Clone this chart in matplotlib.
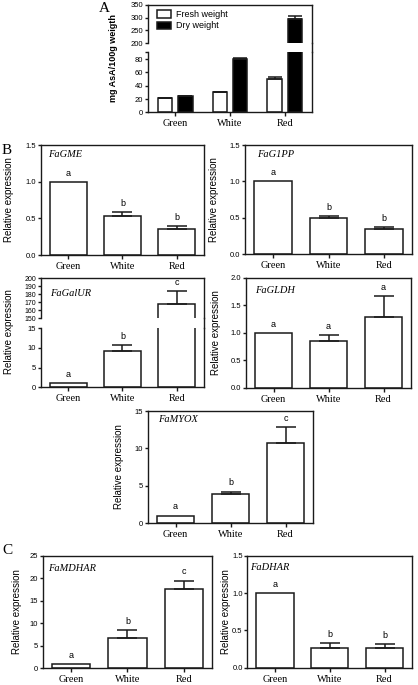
import matplotlib
matplotlib.use('Agg')
import matplotlib.pyplot as plt
from matplotlib.lines import Line2D
import numpy as np

stages = ['Green', 'White', 'Red']

# panel A: ascorbate content (mg AsA/100g)
asa_fresh = [21, 30.5, 50.5]
asa_fresh_err = [0.5, 0.8, 2.0]
asa_dry = [24, 80, 294]
asa_dry_err = [0.6, 1.2, 13]

# panel B/C: relative expression
gme = [1.0, 0.53, 0.36]
gme_err = [0, 0.05, 0.035]
gme_sig = ['a', 'b', 'b']

g1pp = [1.0, 0.50, 0.345]
g1pp_err = [0, 0.03, 0.03]
g1pp_sig = ['a', 'b', 'b']

galur = [1.0, 9.2, 168]
galur_err = [0, 1.5, 16]
galur_sig = ['a', 'b', 'c']

gldh = [1.0, 0.85, 1.29]
gldh_err = [0, 0.11, 0.38]
gldh_sig = ['a', 'a', 'a']

myox = [1.0, 3.9, 10.7]
myox_err = [0, 0.3, 2.1]
myox_sig = ['a', 'b', 'c']

mdhar = [1.0, 6.8, 17.6]
mdhar_err = [0, 1.7, 1.9]
mdhar_sig = ['a', 'b', 'c']

dhar = [1.0, 0.26, 0.26]
dhar_err = [0, 0.07, 0.06]
dhar_sig = ['a', 'b', 'b']

W, H = 418, 685
SANS = 'Liberation Sans'
SERIF = 'Liberation Serif'
EDGE = '#1a1a1a'

plt.rcParams['font.family'] = SANS
plt.rcParams['axes.linewidth'] = 1.0
plt.rcParams['axes.edgecolor'] = EDGE

fig = plt.figure(figsize=(W / 100, H / 100), dpi=100)


def box(x0, x1, top, bot):
    return [x0 / W, 1 - bot / H, (x1 - x0) / W, (bot - top) / H]


def make_ax(x0, x1, top, bot, ylim, yticks, fmt='%g', ysize=5.5):
    ax = fig.add_axes(box(x0, x1, top, bot))
    ax.set_xlim(-0.5, 2.5)
    ax.set_ylim(*ylim)
    ax.set_yticks(yticks)
    ax.set_yticklabels([fmt % t for t in yticks])
    ax.tick_params(axis='y', which='both', direction='out', length=2.5, width=1,
                   labelsize=ysize, pad=1, color=EDGE)
    ax.tick_params(axis='x', direction='out', length=3, width=1, labelsize=7.5,
                   pad=2, color=EDGE)
    ax.set_xticks(range(3))
    ax.set_xticklabels(stages, family=SERIF)
    return ax


def draw_bars(ax, vals, errs, sig=None, show=(0, 1, 2)):
    x = np.arange(3)
    vals = np.asarray(vals, float)
    errs = np.asarray(errs, float)
    ax.bar(x, vals, 0.68, color='white', edgecolor=EDGE, linewidth=1.1, zorder=2)
    m = errs > 0
    ax.errorbar(x[m], vals[m], yerr=[np.zeros(m.sum()), errs[m]], fmt='none',
                ecolor=EDGE, elinewidth=1.1, capsize=7, capthick=1.1, zorder=3)
    if sig:
        for i in show:
            ax.annotate(sig[i], (i, vals[i] + errs[i]), xytext=(0, 3),
                        textcoords='offset points', ha='center', va='bottom',
                        fontsize=6.5)


def gene(ax, name, fx, fy):
    ax.text(fx, fy, name, transform=ax.transAxes, family=SERIF, style='italic',
            fontsize=7.5, ha='left', va='center')


def ylab(xp, yp, text, **kw):
    fig.text(xp / W, 1 - yp / H, text, rotation=90, ha='center', va='center',
             fontsize=kw.pop('size', 7), **kw)


def join_right(xp, y0, y1):
    fig.add_artist(Line2D([xp / W, xp / W], [1 - y0 / H, 1 - y1 / H],
                          transform=fig.transFigure, color=EDGE, lw=1.0))


# ---- A: broken axis ----
axA1 = make_ax(148, 312, 4.7, 43.3, (200, 350), [200, 250, 300, 350])
axA2 = make_ax(148, 312, 52.3, 112.3, (0, 90.3), [0, 20, 40, 60, 80])
axA2.set_yticks([90], minor=True)
xa = np.arange(3)
for ax in (axA1, axA2):
    ax.bar(xa - 0.185, asa_fresh, 0.26, color='white', edgecolor=EDGE, lw=1.1,
           label='Fresh weight', zorder=2)
    ax.bar(xa + 0.185, asa_dry, 0.26, color='black', edgecolor=EDGE, lw=1.1,
           label='Dry weight', zorder=2)
    ax.errorbar(xa - 0.185, asa_fresh, yerr=[np.zeros(3), asa_fresh_err],
                fmt='none', ecolor=EDGE, elinewidth=1.1, capsize=5, capthick=1.1, zorder=3)
    ax.errorbar(xa + 0.185, asa_dry, yerr=[np.zeros(3), asa_dry_err],
                fmt='none', ecolor=EDGE, elinewidth=1.1, capsize=5, capthick=1.1, zorder=3)
axA1.spines['bottom'].set_visible(False)
axA1.tick_params(axis='x', bottom=False, labelbottom=False)
axA2.spines['top'].set_visible(False)
axA1.legend(loc='upper left', bbox_to_anchor=(0.02, 1.0), frameon=False,
            fontsize=6.5, handlelength=1.6, handleheight=0.9, labelspacing=0.25,
            handletextpad=0.5, borderaxespad=0.2)
join_right(312, 43.3, 52.3)
ylab(113, 58, 'mg AsA/100g weigth', weight='bold', size=6.5)
fig.text(104 / W, 1 - 8 / H, 'A', family=SERIF, fontsize=11, ha='center', va='center')

# ---- B ----
fig.text(7 / W, 1 - 150 / H, 'B', family=SERIF, fontsize=11, ha='center', va='center')

ax = make_ax(41, 204, 145, 255, (0, 1.5), [0, 0.5, 1.0, 1.5], '%.1f')
draw_bars(ax, gme, gme_err, gme_sig)
gene(ax, 'FaGME', 0.045, 0.91)
ylab(9, 200, 'Relative expression')

ax = make_ax(245, 412, 145, 254.3, (0, 1.5), [0, 0.5, 1.0, 1.5], '%.1f')
draw_bars(ax, g1pp, g1pp_err, g1pp_sig)
gene(ax, 'FaG1PP', 0.07, 0.91)
ylab(214, 200, 'Relative expression')

# FaGalUR, broken axis
axG1 = make_ax(41, 204, 278.3, 318.3, (150, 200), list(range(150, 201, 10)), ysize=5)
axG2 = make_ax(41, 204, 328.3, 387.3, (0, 15), [0, 5, 10, 15])
draw_bars(axG1, galur, galur_err, galur_sig, show=(2,))
draw_bars(axG2, galur, galur_err, galur_sig, show=(0, 1))
axG1.spines['bottom'].set_visible(False)
axG1.tick_params(axis='x', bottom=False, labelbottom=False)
axG2.spines['top'].set_visible(False)
gene(axG1, 'FaGalUR', 0.055, 0.63)
join_right(204, 318.3, 328.3)
ylab(9, 332, 'Relative expression')

ax = make_ax(246, 411, 277.7, 387.7, (0, 2.0), [0, 0.5, 1.0, 1.5, 2.0], '%.1f')
draw_bars(ax, gldh, gldh_err, gldh_sig)
gene(ax, 'FaGLDH', 0.055, 0.88)
ylab(216, 333, 'Relative expression')

ax = make_ax(148, 313, 411, 523, (0, 15), [0, 5, 10, 15])
draw_bars(ax, myox, myox_err, myox_sig)
gene(ax, 'FaMYOX', 0.062, 0.92)
ylab(119, 467, 'Relative expression')

# ---- C ----
fig.text(7 / W, 1 - 551 / H, 'C', family=SERIF, fontsize=11, ha='center', va='center')

ax = make_ax(43, 212, 555.8, 668.3, (0, 25), [0, 5, 10, 15, 20, 25])
draw_bars(ax, mdhar, mdhar_err, mdhar_sig)
gene(ax, 'FaMDHAR', 0.031, 0.89)
ylab(17, 612, 'Relative expression')

ax = make_ax(247.5, 412, 556, 667.7, (0, 1.5), [0, 0.5, 1.0, 1.5], '%.1f')
draw_bars(ax, dhar, dhar_err, dhar_sig)
gene(ax, 'FaDHAR', 0.015, 0.90)
ylab(226, 612, 'Relative expression')

fig.savefig('out.png', dpi=100)
